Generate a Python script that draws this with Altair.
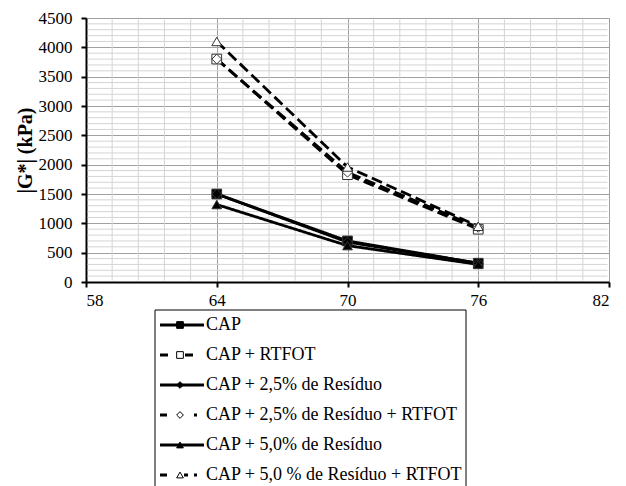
import altair as alt
import pandas as pd

temps = [64, 70, 76]
series_names = [
    "CAP",
    "CAP + RTFOT",
    "CAP + 2,5% de Resíduo",
    "CAP + 2,5% de Resíduo + RTFOT",
    "CAP + 5,0% de Resíduo",
    "CAP + 5,0 % de Resíduo + RTFOT",
]
cap = [1500, 700, 320]
cap_rtfot = [3800, 1830, 900]
cap25 = [1500, 680, 320]
cap25_rtfot = [3800, 1870, 930]
cap50 = [1320, 620, 300]
cap50_rtfot = [4100, 1960, 950]
values = [cap, cap_rtfot, cap25, cap25_rtfot, cap50, cap50_rtfot]

x_major = [58, 64, 70, 76, 82]
y_major = [0, 500, 1000, 1500, 2000, 2500, 3000, 3500, 4000, 4500]
x_minor = [round(58 + 1.2 * i, 1) for i in range(21) if i % 5 != 0]
y_minor = [100 * i for i in range(46) if i % 5 != 0]

rows = []
for name, vals in zip(series_names, values):
    for t, v in zip(temps, vals):
        rows.append({"series": name, "temp": t, "G": v})
df = pd.DataFrame(rows)
leg_df = pd.DataFrame({"series": series_names})

FONT = "Liberation Serif"
W, H = 523, 264

xs = alt.Scale(domain=[58, 82], nice=False, zero=False)
ys = alt.Scale(domain=[0, 4500], nice=False)

dash_range = [[1, 0], [11, 5], [1, 0], [11, 5], [1, 0], [11, 5]]
legend_dash_range = [[1, 0], [8, 17, 8, 100], [1, 0], [7, 27, 3, 100], [1, 0], [7, 17, 4, 6, 3, 100]]
shape_range = ["square", "square", "diamond", "diamond", "triangle-up", "triangle-up"]
fill_range = ["black", "white", "black", "white", "black", "white"]

axis_style = dict(
    grid=True, format="d", gridColor="#a0a0a0", gridWidth=1,
    domainColor="black", domainWidth=2, tickColor="black", tickWidth=2, tickSize=5,
    labelFont=FONT, labelFontSize=17, labelColor="black",
)
x_axis = alt.Axis(values=x_major, title=None, labelPadding=5, **axis_style)
y_axis = alt.Axis(
    values=y_major, title="|G*| (kPa)", labelPadding=9, titlePadding=3,
    titleFont=FONT, titleFontSize=20, titleFontWeight="bold", titleColor="black",
    **axis_style,
)

minor_x = alt.Chart(pd.DataFrame({"temp": x_minor})).mark_rule(
    color="#d4d4d4", strokeWidth=1
).encode(x=alt.X("temp:Q", scale=xs, axis=x_axis), y=alt.value(1.5), y2=alt.value(H - 1.5))
minor_y = alt.Chart(pd.DataFrame({"G": y_minor})).mark_rule(
    color="#d4d4d4", strokeWidth=1
).encode(y=alt.Y("G:Q", scale=ys, axis=y_axis), x=alt.value(1.5), x2=alt.value(W - 1.5))

lines = alt.Chart(df).mark_line(color="black", strokeWidth=2.8).encode(
    x=alt.X("temp:Q", scale=xs, axis=x_axis),
    y=alt.Y("G:Q", scale=ys, axis=y_axis),
    strokeDash=alt.StrokeDash("series:N", scale=alt.Scale(domain=series_names, range=dash_range), legend=None),
)

points = alt.Chart(df).mark_point(stroke="#333333", strokeWidth=1, opacity=1, fillOpacity=1, size=95).encode(
    x=alt.X("temp:Q", scale=xs, axis=x_axis),
    y=alt.Y("G:Q", scale=ys, axis=y_axis),
    shape=alt.Shape("series:N", scale=alt.Scale(domain=series_names, range=shape_range), legend=None),
    fill=alt.Fill("series:N", scale=alt.Scale(domain=series_names, range=fill_range), legend=None),
)

main = alt.layer(minor_x, minor_y, lines, points)

# legend drawn below the plot area
ly = alt.Y("series:N", scale=alt.Scale(type="point", domain=series_names, range=[307, 457], padding=0), axis=None)

leg_box = alt.Chart(pd.DataFrame({"k": [0]})).mark_rect(
    fill="white", stroke="black", strokeWidth=1
).encode(x=alt.value(69), x2=alt.value(380), y=alt.value(292), y2=alt.value(478))

leg_lines = alt.Chart(leg_df).mark_rule(color="black", strokeWidth=2.8).encode(
    x=alt.value(74), x2=alt.value(118), y=ly,
    strokeDash=alt.StrokeDash("series:N", scale=alt.Scale(domain=series_names, range=legend_dash_range), legend=None),
)

leg_points = alt.Chart(leg_df).mark_point(stroke="black", strokeWidth=1, opacity=1, fillOpacity=1, size=45).encode(
    x=alt.value(94), y=ly,
    shape=alt.Shape("series:N", scale=alt.Scale(domain=series_names, range=shape_range), legend=None),
    fill=alt.Fill("series:N", scale=alt.Scale(domain=series_names, range=fill_range), legend=None),
)

leg_text = alt.Chart(leg_df).mark_text(
    align="left", baseline="middle", font=FONT, fontSize=18, color="black"
).encode(x=alt.value(120), y=ly, text="series:N")

legend = alt.layer(leg_box, leg_lines, leg_points, leg_text)

chart = alt.layer(main, legend).resolve_scale(
    y="independent", strokeDash="independent"
).properties(
    width=W, height=H,
    padding={"left": 15, "top": 9, "right": 15, "bottom": 0},
).configure_view(stroke="black", strokeWidth=2).configure(
    background="white"
).configure_axis(
    labelFont=FONT, titleFont=FONT,
)

chart.save("out.html", embed_options={"renderer": "svg", "actions": False})
